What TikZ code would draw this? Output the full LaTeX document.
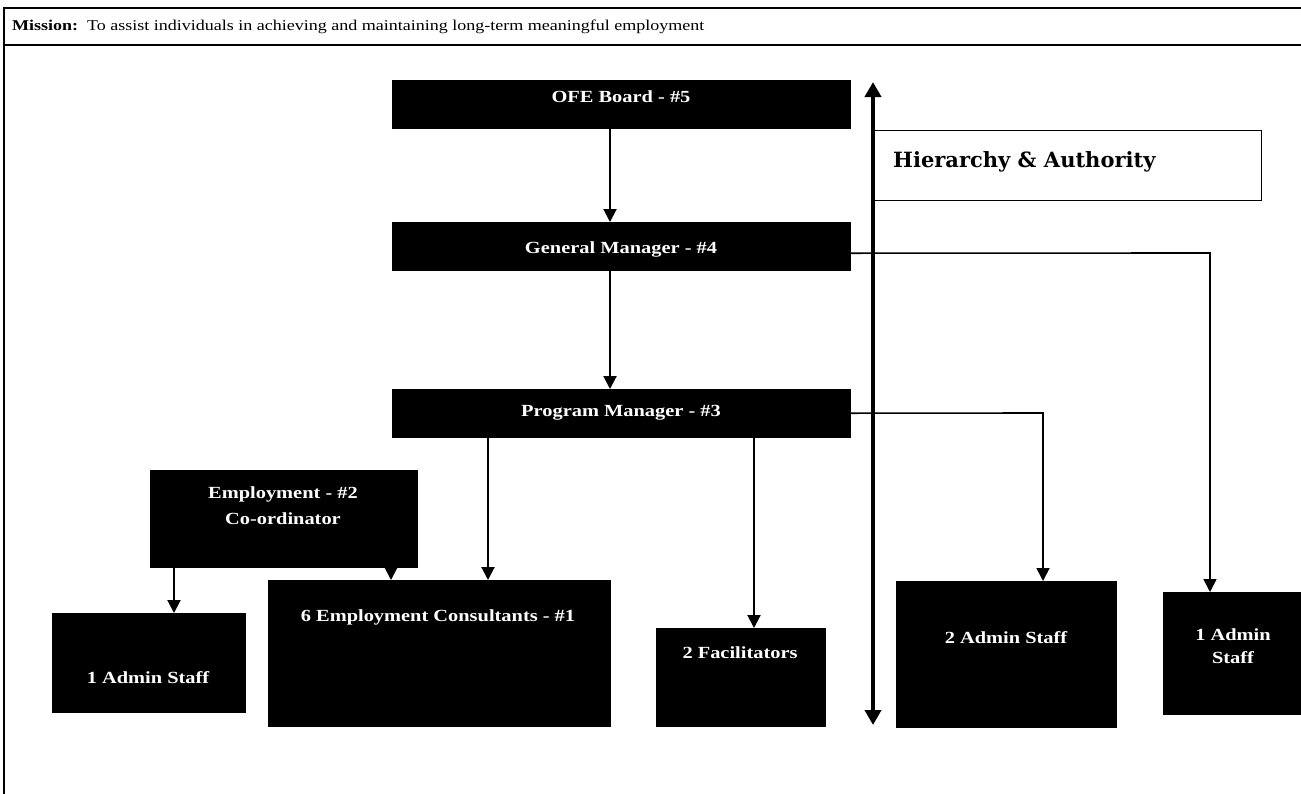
\documentclass[tikz,border=0pt]{standalone}
\usepackage{fontspec}
\setmainfont{Liberation Serif}[FakeStretch=1.2]
\newfontfamily\hfont{DejaVu Serif}
\usetikzlibrary{arrows.meta,calc}
\begin{document}
\begin{tikzpicture}[x=1pt,y=-1pt,
  bbox/.style={draw=black,fill=black,inner sep=0pt,anchor=north west},
  wtext/.style={text=white,font=\bfseries\fontsize{17}{20}\selectfont,align=center,inner sep=0pt},
  conn/.style={line width=2pt,draw=black},
  arr/.style={conn,-{Triangle[width=13pt,length=13pt]}},
  thinarr/.style={line width=1.6pt,draw=black,-{Triangle[width=13pt,length=13pt]}},
  frameline/.style={line width=1.8pt,draw=black}]
\useasboundingbox (0,0) rectangle (1301,793);
\clip (0,0) rectangle (1301,793);
\fill[white] (0,0) rectangle (1301,793);
% frame
\draw[frameline] (1320,8) -- (4,8) -- (4,820);
\draw[frameline,line width=2.4pt] (4,45) -- (1320,45);
\node[anchor=west,inner sep=0pt,font=\fontsize{15}{17}\selectfont] (mission) at (12,27) {\textbf{Mission:}\ \ To assist individuals in achieving and maintaining long-term meaningful employment};
% boxes
\node[bbox,minimum width=458pt,minimum height=48pt] (ofe) at (392,80) {};
\node[bbox,minimum width=458pt,minimum height=48pt] (gm) at (392,222) {};
\node[bbox,minimum width=458pt,minimum height=48pt] (pm) at (392,389) {};
\node[bbox,minimum width=267pt,minimum height=97pt] (coord) at (150,470) {};
\node[bbox,minimum width=193pt,minimum height=99pt] (adm1) at (52,613) {};
\node[bbox,minimum width=342pt,minimum height=146pt] (emp) at (268,580) {};
\node[bbox,minimum width=169pt,minimum height=98pt] (fac) at (656,628) {};
\node[bbox,minimum width=220pt,minimum height=146pt] (adm2) at (896,581) {};
\node[bbox,minimum width=160pt,minimum height=122pt] (adm3) at (1163,592) {};
\node[draw=black,line width=1.2pt,fill=white,inner sep=0pt,anchor=north west,minimum width=388pt,minimum height=70pt] (hier) at (873,130) {};
% texts
\node[wtext] (tofe) at (621,97) {OFE Board - \#5};
\node[wtext] (tgm) at (621,249) {General Manager - \#4};
\node[wtext] (tpm) at (621,413) {Program Manager - \#3};
\node[wtext] (tco1) at (283,494) {Employment - \#2};
\node[wtext] (tco2) at (283,519) {Co-ordinator};
\node[wtext] (tadm1) at (148,678) {1 Admin Staff};
\node[wtext] (temp) at (438,617) {6 Employment Consultants - \#1};
\node[wtext] (tfac) at (740,653) {2 Facilitators};
\node[wtext] (tadm2) at (1006,638) {2 Admin Staff};
\node[wtext] (tadm3a) at (1233,635) {1 Admin};
\node[wtext] (tadm3b) at (1233,658) {Staff};
\node[anchor=west,inner sep=0pt,font=\hfont\bfseries\fontsize{21}{24}\selectfont] (thier) at (893,162) {Hierarchy \& Authority};
% connectors
\coordinate (x1) at (610,0);
\draw[arr] (ofe.south -| x1) -- (gm.north -| x1);
\draw[arr] (gm.south -| x1) -- (pm.north -| x1);
\coordinate (gmr) at (1210,253);
\draw[thinarr] ([yshift=-7pt]gm.east) -- (gmr) -- (adm3.north -| gmr);
\coordinate (pmr) at (1043,413);
\draw[thinarr] (pm.east) -- (pmr) -- (adm2.north -| pmr);
\coordinate (x2) at (488,0);
\draw[arr] (pm.south -| x2) -- (emp.north -| x2);
\coordinate (x3) at (754,0);
\draw[arr] (pm.south -| x3) -- (fac.north -| x3);
\coordinate (x4) at (174,0);
\draw[arr] (coord.south -| x4) -- (adm1.north -| x4);
\coordinate (x5) at (391,0);
\draw[arr] (coord.south -| x5) -- (emp.north -| x5);
% hierarchy arrow
\coordinate (vt) at (873,82);
\coordinate (vb) at (873,725);
\draw[line width=4pt,{Triangle[width=16pt,length=15pt]}-{Triangle[width=16pt,length=15pt]}] (vt) -- (vb);
\end{tikzpicture}
\end{document}
